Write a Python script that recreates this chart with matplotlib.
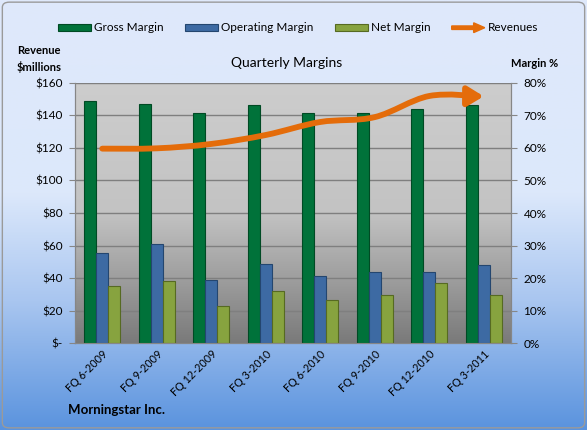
import numpy as np
import matplotlib.pyplot as plt
import matplotlib.patches as mpatches
from matplotlib.path import Path
from matplotlib.colors import LinearSegmentedColormap
from matplotlib.legend_handler import HandlerPatch

plt.rcParams['font.family'] = ['Lato', 'DejaVu Sans']

quarters = ['FQ 6-2009', 'FQ 9-2009', 'FQ 12-2009', 'FQ 3-2010',
            'FQ 6-2010', 'FQ 9-2010', 'FQ 12-2010', 'FQ 3-2011']
gross = [74.4, 73.5, 70.8, 73.2, 70.8, 70.8, 72.0, 73.2]
operating = [27.7, 30.5, 19.5, 24.3, 20.5, 21.7, 21.7, 23.9]
net = [17.4, 19.1, 11.5, 16.0, 13.3, 14.9, 18.4, 14.9]
revenue = [119.6, 119.8, 122.5, 128.0, 136.0, 139.0, 152.0, 151.8]

c_gross = '#00723a'
c_oper = '#3d6aa3'
c_net = '#87a33f'
c_rev = '#e46c0a'

fig = plt.figure(figsize=(5.87, 4.30), dpi=100)

# figure background gradient
bg = fig.add_axes([0, 0, 1, 1], zorder=-10)
bg_cmap = LinearSegmentedColormap.from_list(
    'bg', [(0, '#5a93de'), (0.3, '#a9c6f0'), (0.55, '#dce8fb'), (1, '#dfe9fb')])
bg.imshow(np.linspace(0, 1, 256).reshape(-1, 1), cmap=bg_cmap, aspect='auto',
          origin='lower', extent=[0, 1, 0, 1])
bg.set_xlim(0, 1)
bg.set_ylim(0, 1)
bg.axis('off')
bg.add_patch(mpatches.FancyBboxPatch((0.004, 0.005), 0.992, 0.99,
                                     boxstyle='round,pad=0,rounding_size=0.012',
                                     fc='none', ec='#9a9a9a', lw=1))

ax = fig.add_axes([0.1278, 0.2023, 0.7427, 0.6047])
ax2 = ax.twinx()

x = np.arange(len(quarters))
w = 0.22

# plot area gradient
pa_cmap = LinearSegmentedColormap.from_list(
    'pa', [(0, '#7a7a7a'), (0.5, '#c3c3c3'), (1, '#cdcdcd')])
ax2.imshow(np.linspace(0, 1, 256).reshape(-1, 1), cmap=pa_cmap, aspect='auto',
           origin='lower', extent=[0, 1, 0, 1], transform=ax2.transAxes, zorder=-5)

ax2.bar(x - w, gross, w, color=c_gross, edgecolor='#004a24', lw=0.8, label='Gross Margin', zorder=3)
ax2.bar(x, operating, w, color=c_oper, edgecolor='#24466f', lw=0.8, label='Operating Margin', zorder=3)
ax2.bar(x + w, net, w, color=c_net, edgecolor='#566a22', lw=0.8, label='Net Margin', zorder=3)

ax2.set_ylim(0, 80)
ax2.set_yticks(range(0, 81, 10))
ax2.set_yticklabels([f'{v}%' for v in range(0, 81, 10)])
ax2.yaxis.grid(True, color='#7f7f7f', lw=1, zorder=0)
ax2.set_axisbelow(True)

# revenue line, smoothed through the points as a bezier path
ax.set_zorder(ax2.get_zorder() + 1)
ax.patch.set_visible(False)
ax.set_xlim(-0.5, len(quarters) - 0.5)
ax.set_ylim(0, 160)
pts = np.column_stack([x, revenue])
verts = [tuple(pts[0])]
codes = [Path.MOVETO]
for i in range(len(pts) - 1):
    p0 = pts[max(i - 1, 0)]
    p1 = pts[i]
    p2 = pts[i + 1]
    p3 = pts[min(i + 2, len(pts) - 1)]
    verts += [tuple(p1 + (p2 - p0) / 6), tuple(p2 - (p3 - p1) / 6), tuple(p2)]
    codes += [Path.CURVE4] * 3
arrow = mpatches.FancyArrowPatch(path=Path(verts, codes),
                                 arrowstyle='-|>,head_length=0.9,head_width=0.55',
                                 mutation_scale=10.5, color=c_rev, lw=4.2,
                                 capstyle='round', joinstyle='round')
ax.add_patch(arrow)

ax.set_yticks(range(0, 161, 20))
ax.set_yticklabels(['$-'] + [f'${v}' for v in range(20, 161, 20)])
ax.set_xticks(x)
ax.set_xticklabels(quarters, rotation=45, ha='right', rotation_mode='anchor')

for a in (ax, ax2):
    for s in a.spines.values():
        s.set_color('#868686')
    a.tick_params(axis='y', colors='#868686', labelcolor='black', labelsize=8.5, length=4)
ax.tick_params(axis='x', length=0, labelsize=7.8, pad=4)
ax.yaxis.set_tick_params(pad=5)
ax2.yaxis.set_tick_params(pad=5)
ax.spines['top'].set_visible(False)
ax2.spines['top'].set_visible(False)

fig.text(0.489, 0.853, 'Quarterly Margins', ha='center', va='center', fontsize=10)
fig.text(0.066, 0.862, 'Revenue\n$millions', ha='center', va='center', fontsize=8,
         fontweight='bold', linespacing=1.5)
fig.text(0.911, 0.853, 'Margin %', ha='center', va='center', fontsize=8, fontweight='bold')
fig.text(0.115, 0.047, 'Morningstar Inc.', ha='left', va='center', fontsize=9.5, fontweight='bold')


def make_arrow(legend, orig_handle, xdescent, ydescent, width, height, fontsize):
    return mpatches.FancyArrow(0, height / 2, width, 0, width=2.5,
                               head_width=height * 1.3, head_length=8,
                               length_includes_head=True, color=c_rev)


handles, labels = ax2.get_legend_handles_labels()
rev_handle = mpatches.FancyArrow(0, 0, 1, 0, color=c_rev)
handles.append(rev_handle)
labels.append('Revenues')
fig.legend(handles, labels, loc='center', bbox_to_anchor=(0.508, 0.935), ncol=4,
           frameon=False, fontsize=8.5, handlelength=2.8, handleheight=0.6,
           columnspacing=1.8, handletextpad=0.25,
           handler_map={rev_handle: HandlerPatch(patch_func=make_arrow)})

fig.savefig('out.png', dpi=100)
